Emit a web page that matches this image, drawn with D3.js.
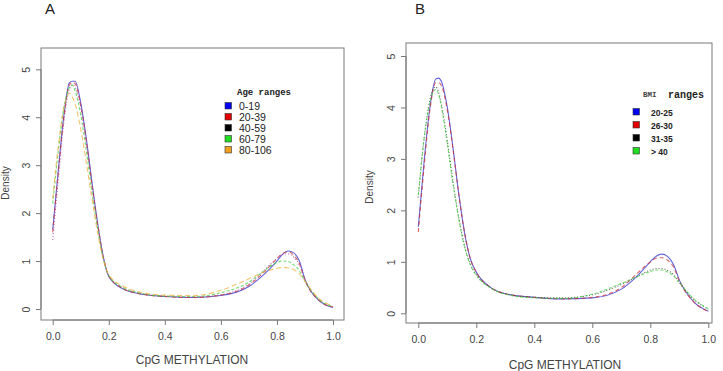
<!DOCTYPE html>
<html>
<head>
<meta charset="utf-8">
<script src="https://cdn.jsdelivr.net/npm/d3@7"></script>
<style>
  body { margin: 0; background: #fff; }
  svg { display: block; font-family: "Liberation Sans", Arial, sans-serif; }
</style>
</head>
<body>
<script>
// methylation grid (x) shared by every density curve
const xGrid = [0, 0.02, 0.04, 0.06, 0.07, 0.08, 0.10, 0.12, 0.14, 0.16, 0.18, 0.20, 0.25, 0.30,
  0.40, 0.50, 0.60, 0.70, 0.75, 0.80, 0.82, 0.84, 0.86, 0.88, 0.90, 0.95, 1.00];

// panel A : age ranges
const ageLabels = ["0-19", "20-39", "40-59", "60-79", "80-106"];
const age0_19   = [1.65, 2.90, 4.05, 4.72, 4.75, 4.75, 4.30, 3.55, 2.65, 1.80, 1.10, 0.68, 0.42, 0.33, 0.26, 0.24, 0.28, 0.47, 0.70, 1.00, 1.14, 1.21, 1.17, 1.00, 0.62, 0.18, 0.03];
const age20_39  = [1.60, 2.85, 4.00, 4.68, 4.72, 4.70, 4.25, 3.50, 2.60, 1.78, 1.10, 0.69, 0.43, 0.33, 0.26, 0.24, 0.29, 0.50, 0.75, 1.05, 1.16, 1.19, 1.12, 0.95, 0.60, 0.18, 0.04];
const age40_59  = [1.44, 2.70, 3.90, 4.60, 4.68, 4.62, 4.20, 3.48, 2.60, 1.78, 1.12, 0.70, 0.44, 0.34, 0.27, 0.25, 0.30, 0.52, 0.78, 1.06, 1.14, 1.15, 1.08, 0.92, 0.60, 0.19, 0.04];
const age60_79  = [2.20, 3.30, 4.20, 4.62, 4.67, 4.55, 4.05, 3.30, 2.45, 1.68, 1.06, 0.70, 0.45, 0.35, 0.27, 0.26, 0.34, 0.56, 0.78, 0.97, 1.00, 0.99, 0.92, 0.80, 0.58, 0.20, 0.05];
const age80_106 = [2.30, 3.40, 4.20, 4.50, 4.42, 4.28, 3.75, 3.05, 2.30, 1.60, 1.04, 0.72, 0.48, 0.37, 0.29, 0.28, 0.39, 0.63, 0.76, 0.85, 0.87, 0.86, 0.82, 0.74, 0.58, 0.22, 0.06];

// panel B : BMI ranges
const bmiLabels = ["20-25", "26-30", "31-35", "> 40"];
const bmi20_25  = [1.68, 2.95, 4.00, 4.55, 4.57, 4.50, 4.00, 3.20, 2.30, 1.55, 1.05, 0.80, 0.50, 0.38, 0.31, 0.28, 0.30, 0.47, 0.70, 1.00, 1.11, 1.15, 1.10, 0.95, 0.65, 0.22, 0.04];
const bmi26_30  = [1.58, 2.85, 3.95, 4.48, 4.48, 4.42, 3.95, 3.17, 2.30, 1.55, 1.05, 0.80, 0.50, 0.38, 0.31, 0.28, 0.31, 0.50, 0.75, 1.00, 1.07, 1.08, 1.03, 0.90, 0.63, 0.22, 0.04];
const bmi31_35  = [2.25, 3.40, 4.15, 4.40, 4.30, 4.05, 3.35, 2.55, 1.85, 1.30, 0.95, 0.75, 0.50, 0.38, 0.31, 0.30, 0.36, 0.56, 0.70, 0.84, 0.87, 0.87, 0.83, 0.75, 0.60, 0.27, 0.08];
const bmiOver40 = [2.30, 3.40, 4.10, 4.35, 4.25, 4.00, 3.30, 2.50, 1.82, 1.28, 0.93, 0.74, 0.49, 0.37, 0.30, 0.29, 0.37, 0.58, 0.70, 0.81, 0.84, 0.84, 0.80, 0.73, 0.60, 0.28, 0.09];

const xTicks = [0, 0.2, 0.4, 0.6, 0.8, 1.0];
const yTicks = [0, 1, 2, 3, 4, 5];

const W = 723, H = 371;
const svg = d3.select("body").append("svg").attr("width", W).attr("height", H);

const axisCol = "#7a7a7a";
const textCol = "#444";

function drawPanel(cfg) {
  const g = svg.append("g");
  const x = d3.scaleLinear().domain([0, 1]).range([cfg.x0, cfg.x1]);
  const y = d3.scaleLinear().domain([0, 5]).range([cfg.y0, cfg.y5]);

  // panel letter
  g.append("text").attr("x", cfg.letterX).attr("y", 14)
    .attr("font-size", 15).attr("fill", "#222").text(cfg.letter);

  // plot box
  g.append("rect")
    .attr("x", cfg.box[0]).attr("y", cfg.box[1])
    .attr("width", cfg.box[2] - cfg.box[0]).attr("height", cfg.box[3] - cfg.box[1])
    .attr("fill", "none").attr("stroke", axisCol).attr("stroke-width", 1);

  // x axis, R style: ticks hang below the box
  const xa = g.append("g").attr("transform", `translate(0,${cfg.box[3]})`)
    .call(d3.axisBottom(x).tickValues(xTicks).tickFormat(d3.format(".1f")).tickSize(5).tickPadding(8));
  xa.select(".domain").attr("stroke", axisCol).attr("d", `M${x(0)},0H${x(1)}`);
  xa.selectAll(".tick line").attr("stroke", axisCol);
  xa.selectAll("text").attr("fill", textCol).attr("font-size", 10.5)
    .attr("font-family", "Liberation Sans, Arial, sans-serif");

  // y axis with rotated labels
  const ya = g.append("g").attr("transform", `translate(${cfg.box[0]},0)`)
    .call(d3.axisLeft(y).tickValues(yTicks).tickSize(5).tickFormat(d3.format("d")));
  ya.select(".domain").attr("d", `M0,${y(0)}V${y(5)}`).attr("stroke", axisCol);
  ya.selectAll(".tick line").attr("stroke", axisCol);
  ya.selectAll(".tick text")
    .attr("fill", textCol).attr("font-size", 10.5)
    .attr("font-family", "Liberation Sans, Arial, sans-serif")
    .attr("x", null).attr("dy", null)
    .attr("text-anchor", "middle")
    .attr("transform", `translate(${cfg.yLabX - cfg.box[0]},0) rotate(-90)`)
    .attr("y", 4);

  // axis titles
  g.append("text").attr("x", cfg.xTitleX).attr("y", cfg.xTitleY)
    .attr("text-anchor", "middle").attr("font-size", 12).attr("fill", textCol)
    .text("CpG METHYLATION");
  g.append("text")
    .attr("transform", `translate(${cfg.yTitleX},${cfg.yTitleY}) rotate(-90)`)
    .attr("text-anchor", "middle").attr("font-size", 10).attr("fill", textCol)
    .text("Density");

  // curves
  const line = d3.line().x((d, i) => x(xGrid[i])).y(d => y(d)).curve(d3.curveMonotoneX);
  cfg.series.forEach(s => {
    g.append("path").datum(s.values)
      .attr("d", line)
      .attr("fill", "none")
      .attr("stroke", s.color)
      .attr("stroke-width", 1.1)
      .attr("stroke-opacity", 0.75)
      .attr("stroke-dasharray", s.dash);
  });

  // legend
  const lg = g.append("g");
  cfg.legendTitle(lg);
  cfg.series.forEach((s, i) => {
    const yy = cfg.legY0 + i * cfg.legStep;
    lg.append("rect").attr("x", cfg.legSqX).attr("y", yy - 3.5)
      .attr("width", 6.5).attr("height", 6.5)
      .attr("fill", s.key).attr("stroke", "#333").attr("stroke-width", 0.6);
    lg.append("text").attr("x", cfg.legTxtX).attr("y", yy + 3.8)
      .attr("font-size", cfg.legFont).attr("font-weight", cfg.legWeight)
      .attr("fill", "#222").text(s.label);
  });
}

drawPanel({
  letter: "A", letterX: 45,
  box: [41, 48, 344, 320],
  x0: 52.7, x1: 333, y0: 309, y5: 69.3,
  yLabX: 26, xTitleX: 192, xTitleY: 364, yTitleX: 9, yTitleY: 183,
  legY0: 106, legStep: 11, legSqX: 225, legTxtX: 239, legFont: 10.5, legWeight: "normal",
  legendTitle: lg => lg.append("text").attr("x", 237).attr("y", 95)
    .attr("font-family", "Liberation Mono, Courier New, monospace")
    .attr("font-weight", "bold").attr("font-size", 9).attr("fill", "#222").text("Age ranges"),
  series: [
    { label: ageLabels[0], values: age0_19,   color: "#3030d0", dash: null,  key: "#0000ee" },
    { label: ageLabels[1], values: age20_39,  color: "#d03030", dash: "4,3", key: "#e00000" },
    { label: ageLabels[2], values: age40_59,  color: "#a040a0", dash: "1,2", key: "#000000" },
    { label: ageLabels[3], values: age60_79,  color: "#40d040", dash: "3,2", key: "#22dd22" },
    { label: ageLabels[4], values: age80_106, color: "#f0b040", dash: "5,3", key: "#f0a020" }
  ]
});

drawPanel({
  letter: "B", letterX: 415,
  box: [406, 43, 712, 323],
  x0: 418.3, x1: 708.3, y0: 313.3, y5: 56,
  yLabX: 391, xTitleX: 565, xTitleY: 369, yTitleX: 373, yTitleY: 187,
  legY0: 112, legStep: 13, legSqX: 633, legTxtX: 651, legFont: 8.5, legWeight: "bold",
  legendTitle: lg => {
    lg.append("text").attr("x", 643).attr("y", 97)
      .attr("font-family", "Liberation Mono, Courier New, monospace")
      .attr("font-weight", "bold").attr("font-size", 7.5).attr("fill", "#444").text("BMI");
    lg.append("text").attr("x", 668).attr("y", 98)
      .attr("font-family", "Liberation Mono, Courier New, monospace")
      .attr("font-weight", "bold").attr("font-size", 10).attr("fill", "#222").text("ranges");
  },
  series: [
    { label: bmiLabels[0], values: bmi20_25,  color: "#3030d0", dash: null,  key: "#0000ee" },
    { label: bmiLabels[1], values: bmi26_30,  color: "#d03030", dash: "4,3", key: "#e00000" },
    { label: bmiLabels[2], values: bmi31_35,  color: "#303030", dash: "1,2", key: "#000000" },
    { label: bmiLabels[3], values: bmiOver40, color: "#40d040", dash: "3,2", key: "#22dd22" }
  ]
});
</script>
</body>
</html>
